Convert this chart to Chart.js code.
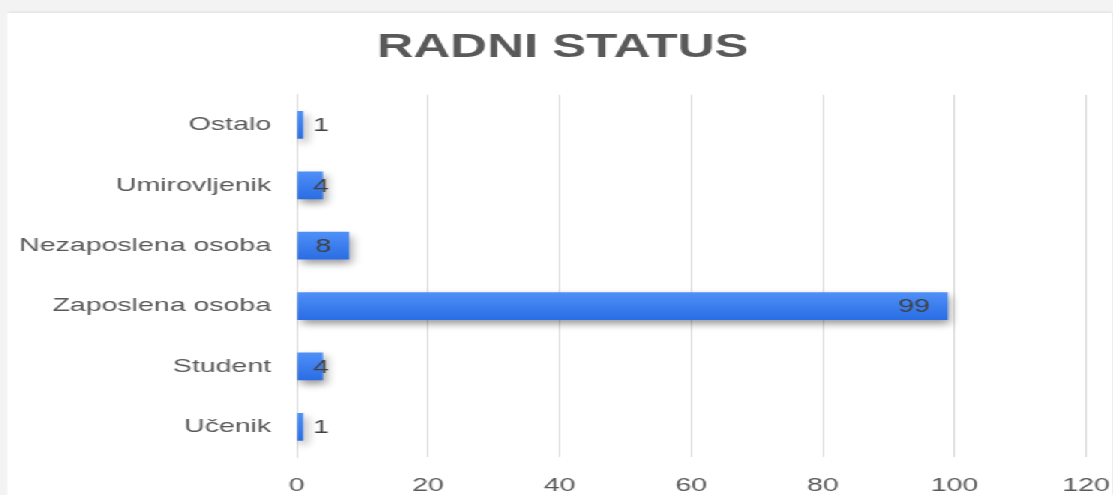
<!DOCTYPE html>
<html>
<head>
<meta charset="utf-8">
<script src="https://cdn.jsdelivr.net/npm/chart.js@4"></script>
<style>
  html, body { margin: 0; padding: 0; background: #f3f3f3; width: 1113px; height: 495px; overflow: hidden; }
  #card {
    position: absolute; left: 7px; top: 13px;
    width: 737px; height: 482px;
    background: #ffffff;
    box-shadow: 0 -1px 2px rgba(0, 0, 0, 0.08);
    transform: scaleX(1.5); transform-origin: 0 0;
  }
  #chart { display: block; width: 737px; height: 482px; }
</style>
</head>
<body>
<div id="card"><canvas id="chart" width="737" height="482"></canvas></div>
<script>
// chart values, top row first
const categories = ["Ostalo", "Umirovljenik", "Nezaposlena osoba", "Zaposlena osoba", "Student", "Učenik"];
const counts = [1, 4, 8, 99, 4, 1];
const xTicks = [0, 20, 40, 60, 80, 100, 120];

const textColor = "#595959";
const gridColor = "#d9d9d9";
const fontFamily = "'Liberation Sans', Arial, sans-serif";

// light-to-dark blue across each bar
const barFill = (context) => {
  const chart = context.chart;
  const yScale = chart.scales.y;
  if (!yScale || context.dataIndex === undefined) return "#3b7ded";
  const mid = yScale.getPixelForValue(context.dataIndex);
  if (!Number.isFinite(mid)) return "#3b7ded";
  const g = chart.ctx.createLinearGradient(0, mid - 14, 0, mid + 14);
  g.addColorStop(0, "#4f90f8");
  g.addColorStop(1, "#2a6de4");
  return g;
};

// soft drop shadow under the bars
const barShadow = {
  id: "barShadow",
  beforeDatasetDraw: (chart) => {
    const ctx = chart.ctx;
    ctx.save();
    ctx.shadowColor = "rgba(0, 0, 0, 0.4)";
    ctx.shadowBlur = 7;
    ctx.shadowOffsetX = 2;
    ctx.shadowOffsetY = 4;
  },
  afterDatasetDraw: (chart) => {
    chart.ctx.restore();
  },
};

// values drawn near the inner end of each bar, pushed out for short bars
const valueLabels = {
  id: "valueLabels",
  afterDatasetsDraw: (chart) => {
    const ctx = chart.ctx;
    const meta = chart.getDatasetMeta(0);
    const base = chart.scales.x.getPixelForValue(0);
    ctx.save();
    ctx.font = "19px " + fontFamily;
    ctx.fillStyle = "#404040";
    ctx.textAlign = "right";
    ctx.textBaseline = "middle";
    meta.data.forEach((bar, i) => {
      const right = Math.max(bar.x - 12, base + 21.5);
      ctx.fillText(String(counts[i]), right, bar.y + 1);
    });
    ctx.restore();
  },
};

new Chart(document.getElementById("chart"), {
  type: "bar",
  data: {
    labels: categories,
    datasets: [
      {
        data: counts,
        backgroundColor: barFill,
        borderWidth: 0,
        barPercentage: 0.46,
        categoryPercentage: 1,
      },
    ],
  },
  plugins: [barShadow, valueLabels],
  options: {
    indexAxis: "y",
    responsive: false,
    animation: false,
    layout: { padding: { left: 7, right: 3, top: 0, bottom: 0 } },
    scales: {
      x: {
        min: 0,
        max: 120,
        afterBuildTicks: (axis) => {
          axis.ticks = xTicks.map((v) => ({ value: v }));
        },
        afterFit: (axis) => {
          axis.height = 38;
          axis.paddingRight = 17.5;
        },
        grid: { color: gridColor, lineWidth: 1, drawTicks: false },
        border: { display: false },
        ticks: {
          color: textColor,
          font: { family: fontFamily, size: 19 },
          padding: 17,
          maxRotation: 0,
          autoSkip: false,
        },
      },
      y: {
        afterFit: (axis) => {
          axis.width = 186;
          axis.paddingTop = 0;
          axis.paddingBottom = 0;
        },
        grid: { display: false, drawTicks: false },
        border: { display: true, color: gridColor },
        ticks: {
          color: textColor,
          font: { family: fontFamily, size: 19 },
          padding: 17,
        },
      },
    },
    plugins: {
      legend: { display: false },
      tooltip: { enabled: false },
      title: {
        display: true,
        text: "RADNI STATUS",
        color: textColor,
        font: { family: fontFamily, size: 34, weight: "bold" },
        padding: { top: 14, bottom: 27 },
      },
    },
  },
});
</script>
</body>
</html>
